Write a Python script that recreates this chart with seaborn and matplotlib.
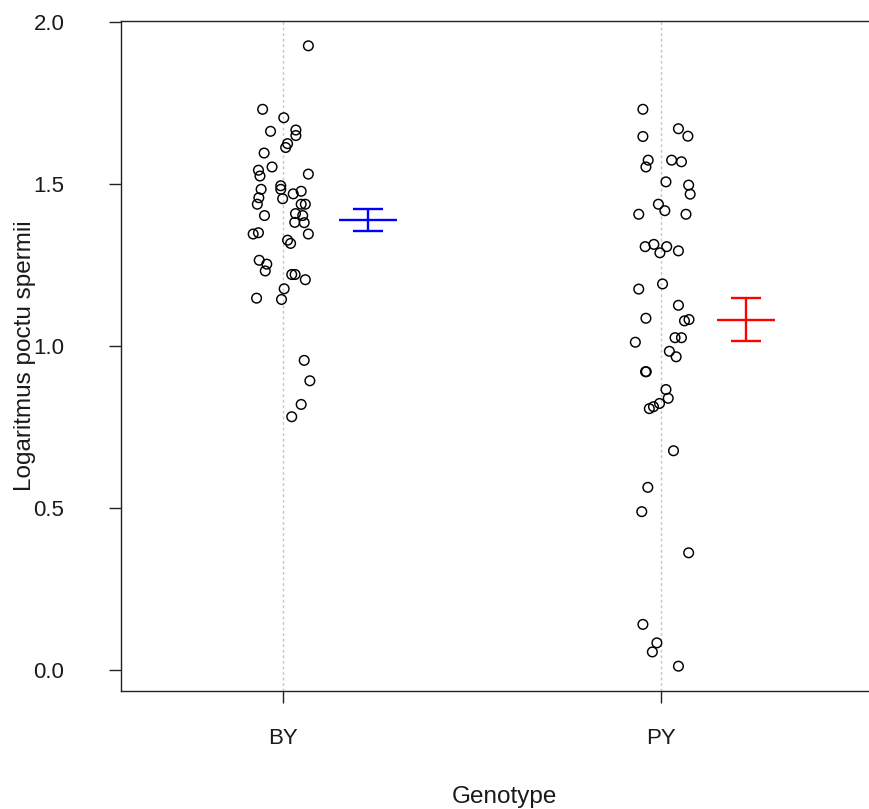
import numpy as np
import pandas as pd
import matplotlib
matplotlib.use("Agg")
import matplotlib.pyplot as plt
import seaborn as sns

# Genotype groups
genotypes = ["BY", "PY"]

# Log sperm counts per individual
by_values = [1.927, 1.731, 1.705, 1.663, 1.667, 1.650, 1.625, 1.613, 1.596, 1.553,
             1.543, 1.525, 1.531, 1.495, 1.484, 1.484, 1.478, 1.470, 1.455, 1.458,
             1.438, 1.438, 1.438, 1.403, 1.409, 1.403, 1.382, 1.381, 1.346, 1.350,
             1.346, 1.327, 1.317, 1.265, 1.253, 1.232, 1.221, 1.221, 1.205, 1.177,
             1.148, 1.144, 0.956, 0.893, 0.820, 0.782]
py_values = [1.731, 1.671, 1.648, 1.647, 1.574, 1.553, 1.574, 1.569, 1.507, 1.497,
             1.469, 1.438, 1.418, 1.407, 1.407, 1.307, 1.314, 1.288, 1.307, 1.294,
             1.176, 1.192, 1.126, 1.086, 1.078, 1.082, 1.026, 1.026, 1.012, 0.984,
             0.967, 0.921, 0.921, 0.866, 0.839, 0.823, 0.813, 0.807, 0.677, 0.564,
             0.489, 0.362, 0.141, 0.084, 0.056, 0.012]

# Horizontal jitter applied to each point (in category units)
by_jitter = [0.067, -0.054, 0.002, -0.033, 0.034, 0.034, 0.012, 0.007, -0.050, -0.029,
             -0.065, -0.061, 0.067, -0.006, -0.006, -0.058, 0.048, 0.027, -0.001, -0.064,
             -0.068, 0.048, 0.059, -0.049, 0.033, 0.052, 0.031, 0.056, -0.079, -0.065,
             0.067, 0.012, 0.020, -0.063, -0.043, -0.047, 0.023, 0.032, 0.059, 0.003,
             -0.070, -0.004, 0.056, 0.071, 0.048, 0.023]
py_jitter = [-0.048, 0.046, 0.071, -0.048, -0.034, -0.040, 0.028, 0.054, 0.013, 0.073,
             0.077, -0.007, 0.010, -0.059, 0.066, -0.042, -0.019, -0.003, 0.015, 0.046,
             -0.059, 0.004, 0.046, -0.040, 0.062, 0.074, 0.037, 0.054, -0.068, 0.022,
             0.040, -0.041, -0.039, 0.013, 0.019, -0.004, -0.020, -0.031, 0.033, -0.035,
             -0.051, 0.073, -0.048, -0.011, -0.023, 0.046]

summary_colors = ["#0000FF", "#FF0000"]

df = pd.DataFrame({
    "Genotype": ["BY"] * len(by_values) + ["PY"] * len(py_values),
    "value": by_values + py_values,
    "jitter": by_jitter + py_jitter,
})
df["pos"] = df["Genotype"].map({g: i + 1 for i, g in enumerate(genotypes)}) + df["jitter"]

# Mean and standard error per genotype
stats = df.groupby("Genotype")["value"].agg(["mean", "std", "count"]).reindex(genotypes)
stats["se"] = stats["std"] / np.sqrt(stats["count"])

sns.set_style("white")
plt.rcParams["font.family"] = ["Liberation Sans", "DejaVu Sans"]

fig = plt.figure(figsize=(8.69, 8.09), dpi=100)
ax = fig.add_axes([0.1389, 0.14586, 0.8828, 0.8282])

# Dotted guide lines at each group
for i in range(len(genotypes)):
    ax.axvline(i + 1, color="#c4c4c4", lw=1.0, ls=(0, (2, 2)), zorder=0)

sns.scatterplot(data=df, x="pos", y="value", ax=ax, marker="o", s=48,
                facecolors="none", edgecolor="black", linewidth=1.05, legend=False)

# Mean +/- SE next to each strip
for i, g in enumerate(genotypes):
    ax.errorbar(i + 1 + 0.225, stats.loc[g, "mean"], yerr=stats.loc[g, "se"],
                fmt="_", color=summary_colors[i], markersize=41.5, markeredgewidth=1.7,
                elinewidth=1.7, capsize=10.8, capthick=1.7)

rng = max(df["value"]) - min(df["value"])
ax.set_ylim(min(df["value"]) - 0.04 * rng, max(df["value"]) + 0.04 * rng)
ax.set_xlim(0.5706, 2.6)

ax.set_xticks([1, 2])
ax.set_xticklabels(genotypes)
ax.set_yticks([0.0, 0.5, 1.0, 1.5, 2.0])
ax.set_yticklabels(["0.0", "0.5", "1.0", "1.5", "2.0"])

ax.tick_params(axis="both", which="major", length=8.5, width=1.0, color="#222222",
               labelsize=16, labelcolor="#1a1a1a")
ax.tick_params(axis="x", pad=18.5)
ax.tick_params(axis="y", pad=32)
ax.tick_params(left=True, bottom=True)

for sp in ax.spines.values():
    sp.set_color("#222222")
    sp.set_linewidth(1.0)

ax.set_xlabel("Genotype", fontsize=17.5, color="#1a1a1a", va="center")
ax.set_ylabel("Logaritmus poctu spermii", fontsize=17.5, color="#1a1a1a", va="center")
ax.xaxis.set_label_coords(0.5, -0.158)
ax.yaxis.set_label_coords(-0.1245, 0.5)

fig.savefig("out.png", dpi=100)
